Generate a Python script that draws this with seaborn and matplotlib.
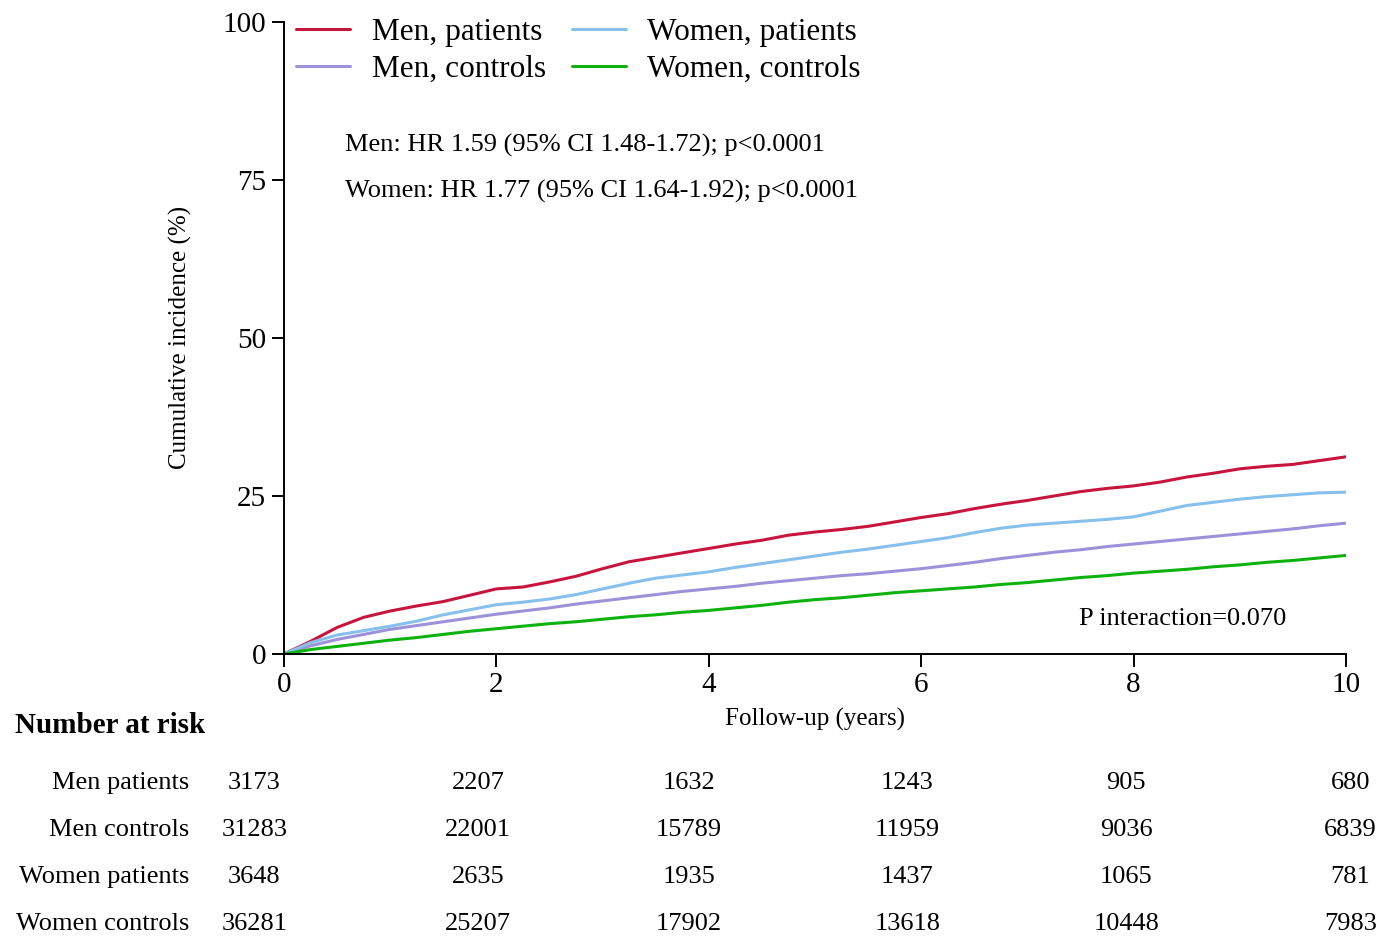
import numpy as np
import pandas as pd
import matplotlib
matplotlib.use("Agg")
import matplotlib.pyplot as plt
import matplotlib.transforms as mtransforms
import seaborn as sns

# Follow-up grid (years) and cumulative incidence (%) per group
years = np.arange(0, 10.01, 0.25)

men_patients = [0, 2.0, 4.2, 5.8, 6.8, 7.6, 8.3, 9.3, 10.3, 10.6, 11.4, 12.3, 13.5, 14.6,
                15.3, 16.0, 16.7, 17.4, 18.0, 18.8, 19.3, 19.7, 20.2, 20.9, 21.6, 22.2,
                23.0, 23.7, 24.3, 25.0, 25.7, 26.2, 26.6, 27.2, 28.0, 28.6, 29.3, 29.7,
                30.0, 30.6, 31.2]
men_controls = [0, 1.3, 2.3, 3.1, 3.9, 4.5, 5.1, 5.7, 6.3, 6.8, 7.3, 7.9, 8.4, 8.9, 9.4,
                9.9, 10.3, 10.7, 11.2, 11.6, 12.0, 12.4, 12.7, 13.1, 13.5, 14.0, 14.5,
                15.1, 15.6, 16.1, 16.5, 17.0, 17.4, 17.8, 18.2, 18.6, 19.0, 19.4, 19.8,
                20.3, 20.7]
women_patients = [0, 1.8, 3.0, 3.7, 4.4, 5.2, 6.2, 7.0, 7.8, 8.2, 8.7, 9.4, 10.3, 11.2,
                  12.0, 12.5, 13.0, 13.7, 14.3, 14.9, 15.5, 16.1, 16.6, 17.2, 17.8, 18.4,
                  19.2, 19.9, 20.4, 20.7, 21.0, 21.3, 21.7, 22.6, 23.5, 24.0, 24.5, 24.9,
                  25.2, 25.5, 25.6]
women_controls = [0, 0.7, 1.2, 1.7, 2.2, 2.6, 3.1, 3.6, 4.0, 4.4, 4.8, 5.1, 5.5, 5.9, 6.2,
                  6.6, 6.9, 7.3, 7.7, 8.2, 8.6, 8.9, 9.3, 9.7, 10.0, 10.3, 10.6, 11.0,
                  11.3, 11.7, 12.1, 12.4, 12.8, 13.1, 13.4, 13.8, 14.1, 14.5, 14.8, 15.2,
                  15.6]

groups = ["Men, patients", "Men, controls", "Women, patients", "Women, controls"]
colors = ["#C8153D", "#9D92DA", "#86C0EC", "#0DB20D"]

# Number at risk table
risk_times = [0, 2, 4, 6, 8, 10]
risk_labels = ["Men patients", "Men controls", "Women patients", "Women controls"]
risk_men_patients = [3173, 2207, 1632, 1243, 905, 680]
risk_men_controls = [31283, 22001, 15789, 11959, 9036, 6839]
risk_women_patients = [3648, 2635, 1935, 1437, 1065, 781]
risk_women_controls = [36281, 25207, 17902, 13618, 10448, 7983]

hr_lines = ["Men: HR 1.59 (95% CI 1.48-1.72); p<0.0001",
            "Women: HR 1.77 (95% CI 1.64-1.92); p<0.0001"]
p_interaction = "P interaction=0.070"

sns.set_style("ticks")
plt.rcParams["font.family"] = ["Liberation Serif", "DejaVu Serif"]
plt.rcParams.update({
    "axes.linewidth": 1.4,
    "xtick.major.width": 1.4,
    "ytick.major.width": 1.4,
    "text.color": "black",
    "axes.labelcolor": "black",
    "xtick.color": "black",
    "ytick.color": "black",
    "axes.edgecolor": "black",
})

df = pd.DataFrame({
    "years": np.tile(years, 4),
    "incidence": np.concatenate([men_patients, men_controls, women_patients, women_controls]),
    "group": np.repeat(groups, len(years)),
})

fig = plt.figure(figsize=(13.82, 9.36), dpi=100)
ax = fig.add_axes([284 / 1382, 1 - 654 / 936, (1346 - 284) / 1382, (654 - 22) / 936])

sns.lineplot(data=df, x="years", y="incidence", hue="group", hue_order=groups,
             palette=colors, linewidth=2.2, ax=ax, legend=False)

ax.set_xlim(0, 10)
ax.set_ylim(0, 100)
ax.set_xticks(risk_times)
ax.set_yticks([0, 25, 50, 75, 100])
ax.tick_params(axis="both", direction="out", length=9, labelsize=21, pad=4)
for s in ("top", "right"):
    ax.spines[s].set_visible(False)

ax.set_xlabel("Follow-up (years)", fontsize=18)
ax.set_ylabel("Cumulative incidence (%)", fontsize=18)
ax.xaxis.set_label_coords((815 - 284) / 1062, -(708 - 654) / 632)
ax.yaxis.set_label_coords((192 - 284) / 1062, (654 - 337) / 632)

handles = [plt.Line2D([], [], color=c, lw=2.2) for c in colors]
leg = ax.legend(handles, groups, ncol=2, frameon=False, fontsize=22.5,
                loc="upper left", bbox_to_anchor=(-0.006, 1.036),
                handlelength=1.72, handletextpad=0.7, columnspacing=0.82,
                labelspacing=0.26, borderaxespad=0.2)

for i, line in enumerate(hr_lines):
    ax.text((345 - 284) / 1062, (654 - 145 - 46 * i) / 632, line,
            transform=ax.transAxes, fontsize=19, ha="left", va="center")
ax.text((1079 - 284) / 1062, (654 - 619) / 632, p_interaction, transform=ax.transAxes,
        fontsize=19, ha="left", va="center")

# Number at risk table below the axes
trans = mtransforms.blended_transform_factory(ax.transData, fig.transFigure)
fig.text(15 / 1382, 1 - 733 / 936, "Number at risk", fontsize=21,
         fontweight="bold", ha="left", va="baseline")
col_shift = [-0.28, -0.17, -0.19, -0.13, -0.07, 0.04]
rows = [risk_men_patients, risk_men_controls, risk_women_patients, risk_women_controls]
baselines = [789, 836, 883, 930]
for label, row, base in zip(risk_labels, rows, baselines):
    yf = 1 - base / 936
    fig.text(189 / 1382, yf, label, fontsize=19, ha="right", va="baseline")
    for t, n, dx in zip(risk_times, row, col_shift):
        ax.text(t + dx, yf, str(n), transform=trans, fontsize=19,
                ha="center", va="baseline", clip_on=False)

fig.savefig("out.png", dpi=100, facecolor="white")
